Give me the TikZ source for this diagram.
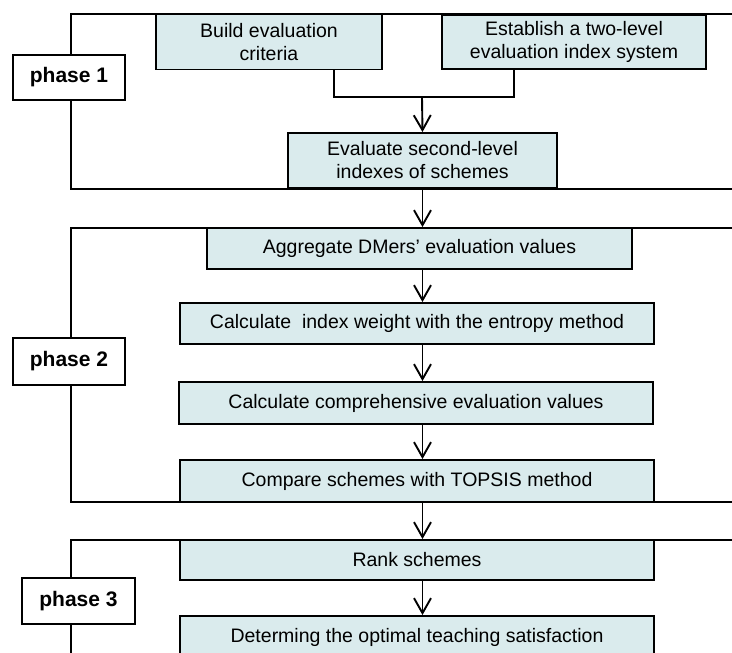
\documentclass[tikz,border=0pt]{standalone}
\usepackage{fontspec}
\setmainfont{Liberation Sans}
\usepackage{xcolor}
\usetikzlibrary{positioning,arrows.meta,calc}
\definecolor{boxfill}{RGB}{218,235,237}

\begin{document}
\begin{tikzpicture}[x=1pt,y=-1pt,>={Straight Barb[length=15pt,width=17pt]},line width=1.9pt,
  every node/.style={font=\fontsize{19.5}{23}\selectfont}]
\tikzstyle{stepbox}=[draw,fill=boxfill,align=center,inner sep=0pt]
\tikzstyle{phase}=[draw,fill=white,inner sep=0pt,font=\fontsize{21}{24}\selectfont\bfseries]
\tikzstyle{arr}=[->]
\useasboundingbox (0,0) rectangle (732,653);
% phase frames
\draw (732,14) -- (71,14) -- (71,189) -- (732,189);
\draw (732,228) -- (71,228) -- (71,502) -- (732,502);
\draw (732,540) -- (71,540) -- (71,670);
% phase 1
\node[stepbox,minimum width=226pt,minimum height=55pt] (build) at (269,42) {Build evaluation\\criteria};
\node[stepbox,minimum width=264pt,minimum height=54pt] (est) at (574,42) {Establish a two-level\\evaluation index system};
\node[stepbox,minimum width=269pt,minimum height=55pt] (evalsec) at (422.5,160.5) {Evaluate second-level\\indexes of schemes};
% phase 2
\node[stepbox,minimum width=425pt,minimum height=41pt] (agg) at (419.5,248.5) {Aggregate DMers’ evaluation values};
\node[stepbox,minimum width=474pt,minimum height=41pt] (weight) at (417,323.5) {Calculate\ \ index weight with the entropy method};
\node[stepbox,minimum width=474pt,minimum height=42pt] (compr) at (416,403) {Calculate comprehensive evaluation values};
\node[stepbox,minimum width=474pt,minimum height=42pt] (topsis) at (417,481) {Compare schemes with TOPSIS method};
% phase 3
\node[stepbox,minimum width=474pt,minimum height=40pt] (rank) at (417,560) {Rank schemes};
\node[stepbox,minimum width=474pt,minimum height=42pt] (opt) at (417,637) {Determing the optimal teaching satisfaction};
% phase labels
\node[phase,minimum width=112pt,minimum height=45pt] (ph1) at (69,77.5) {phase 1};
\node[phase,minimum width=112pt,minimum height=47pt] (ph2) at (69,361.5) {phase 2};
\node[phase,minimum width=113pt,minimum height=46pt] (ph3) at (78.5,601) {phase 3};
% connectors
\coordinate (join) at (422,97);
\draw ([xshift=65pt]build.south) |- (join) -| ([xshift=-60pt]est.south);
\draw[arr] (join) -- (evalsec.north);
\draw[arr] (evalsec.south) -- (evalsec.south |- agg.north);
\draw[arr] (agg.south -| evalsec) -- (evalsec |- weight.north);
\draw[arr] (weight.south -| evalsec) -- (evalsec |- compr.north);
\draw[arr] (compr.south -| evalsec) -- (evalsec |- topsis.north);
\draw[arr] (topsis.south -| evalsec) -- (evalsec |- rank.north);
\draw[arr] (rank.south -| evalsec) -- (evalsec |- opt.north);
\end{tikzpicture}
\end{document}
